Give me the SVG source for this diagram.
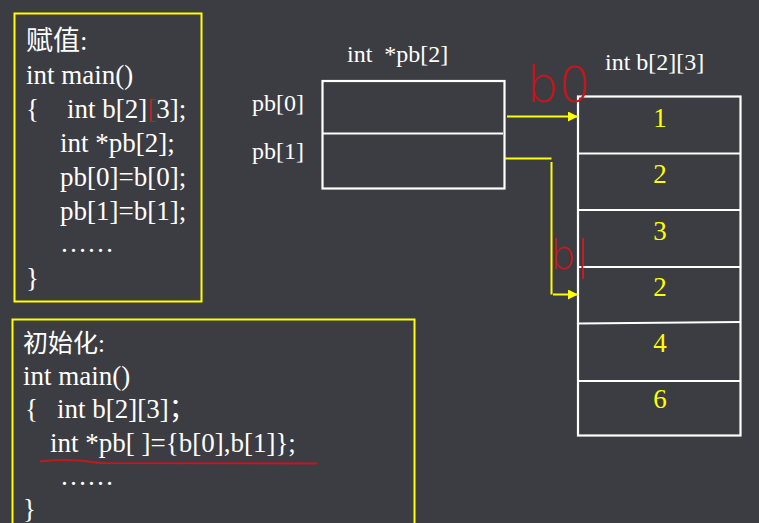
<svg xmlns="http://www.w3.org/2000/svg" width="759" height="523" viewBox="0 0 759 523">
<defs>
<style>
.t{font-family:"Liberation Serif","Times New Roman","DejaVu Serif",serif;fill:#ffffff}
.c1{font-size:27px}
.c2{font-size:27px}
.cj{font-family:"Noto Sans CJK SC",sans-serif;fill:#ffffff}
.lab{font-size:24px}
.num{font-family:"Liberation Serif","Times New Roman","DejaVu Serif",serif;font-size:27px;fill:#ffff00;text-anchor:middle}
.yb{fill:none;stroke:#ffff00;stroke-width:2}
.wb{fill:none;stroke:#ffffff;stroke-width:2.2}
.con{fill:none;stroke:#ffff00;stroke-width:2}
.ink{font-family:"DejaVu Sans","Liberation Sans",sans-serif;font-weight:200;fill:#c8161d}
</style>
<marker id="ah" viewBox="0 0 10 10" refX="10" refY="5" markerWidth="5" markerHeight="5" orient="auto" markerUnits="strokeWidth">
<path d="M0,0 L10,5 L0,10 z" fill="#ffff00"/>
</marker>
</defs>
<rect x="0" y="0" width="759" height="523" fill="#3c3d42"/>

<g id="assign-box">
<rect class="yb" x="14.5" y="13.5" width="187" height="288"/>
<text x="26" y="50"><tspan class="cj" font-size="27">赋值</tspan><tspan class="t" font-size="27">:</tspan></text>
<text class="t c1" x="26" y="84">int main()</text>
<text class="t c1" x="26" y="118">{</text>
<text class="t c1" x="67" y="118">int b[2]<tspan fill="#b5232a">[</tspan>3];</text>
<text class="t c1" x="60" y="152">int *pb[2];</text>
<text class="t c1" x="60" y="186">pb[0]=b[0];</text>
<text class="t c1" x="60" y="220">pb[1]=b[1];</text>
<text class="t c1" x="60" y="252">……</text>
<text class="t c1" x="26" y="287">}</text>
</g>

<g id="init-box">
<rect class="yb" x="12.5" y="319.5" width="402" height="215"/>
<text x="23" y="352"><tspan class="cj" font-size="25">初始化</tspan><tspan class="t" font-size="25">:</tspan></text>
<text class="t c2" x="23" y="385">int main()</text>
<text class="t c2" x="25" y="418">{</text>
<text class="t c2" x="57" y="418">int b[2][3]<tspan class="cj">；</tspan></text>
<text class="t c2" x="50" y="452">int *pb[ ]={b[0],b[1]};</text>
<text class="t c2" x="60" y="485">……</text>
<text class="t c2" x="23" y="518">}</text>
<path d="M40,461.5 Q70,458 100,463 L317,463.5" fill="none" stroke="#c0191e" stroke-width="2"/>
</g>

<g id="pb-array">
<text class="t lab" x="347" y="62" xml:space="preserve">int  *pb[2]</text>
<text class="t lab" x="252" y="111">pb[0]</text>
<text class="t lab" x="252" y="159">pb[1]</text>
<rect class="wb" x="322.5" y="81" width="182" height="107.5"/>
<line class="wb" x1="322.5" y1="133.5" x2="503" y2="133.5"/>
</g>

<g id="b-array">
<text class="t lab" x="605" y="70">int b[2][3]</text>
<rect class="wb" x="578" y="96.5" width="162.5" height="339"/>
<line class="wb" x1="578" y1="153.5" x2="740.5" y2="153.5"/>
<line class="wb" x1="578" y1="210" x2="740.5" y2="210"/>
<line class="wb" x1="578" y1="267" x2="740.5" y2="267"/>
<line class="wb" x1="578" y1="323.5" x2="740.5" y2="322"/>
<line class="wb" x1="578" y1="381" x2="740.5" y2="381"/>
<text class="num" x="660" y="127">1</text>
<text class="num" x="660" y="183">2</text>
<text class="num" x="660" y="240">3</text>
<text class="num" x="660" y="296">2</text>
<text class="num" x="660" y="352">4</text>
<text class="num" x="660" y="408">6</text>
</g>

<g id="connectors">
<line class="con" x1="507" y1="116.5" x2="578" y2="116.5" marker-end="url(#ah)"/>
<polyline class="con" points="505,158.5 551.5,158.5"/>
<line class="con" x1="551.5" y1="162" x2="551.5" y2="294.5"/>
<line class="con" x1="553" y1="294.5" x2="578" y2="294.5" marker-end="url(#ah)"/>
</g>

<g id="annotations">
<text class="ink" x="527" y="102" font-size="50" textLength="64" lengthAdjust="spacingAndGlyphs">b0</text>
<text class="ink" x="550" y="269" font-size="40">b|</text>
</g>
</svg>
